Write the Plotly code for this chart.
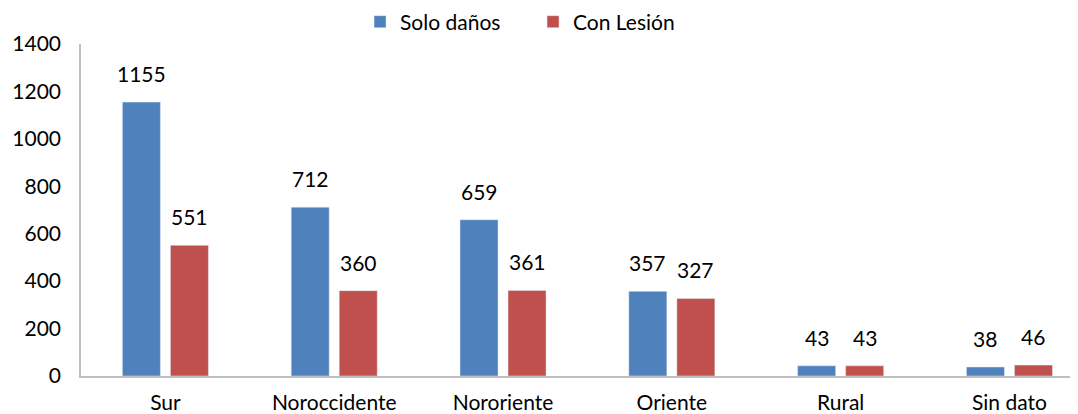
import plotly.graph_objects as go

categories = ["Sur", "Noroccidente", "Nororiente", "Oriente", "Rural", "Sin dato"]
solo_danos = [1155, 712, 659, 357, 43, 38]
con_lesion = [551, 360, 361, 327, 43, 46]
y_ticks = [0, 200, 400, 600, 800, 1000, 1200, 1400]

FONT = "Lato"
FS = 21
fig = go.Figure()
fig.add_trace(go.Bar(name="Solo daños", x=categories, y=solo_danos,
                     marker=dict(color="#4F81BD")))
fig.add_trace(go.Bar(name="Con Lesión", x=categories, y=con_lesion,
                     marker=dict(color="#C0504D")))

annotations = []
for series, shift in ((solo_danos, -24), (con_lesion, 24)):
    for cat, val in zip(categories, series):
        annotations.append(dict(x=cat, y=val, xref="x", yref="y", text=str(val),
                                showarrow=False, xshift=shift, yshift=14,
                                yanchor="bottom", xanchor="center",
                                font=dict(size=FS, family=FONT, color="black")))

fig.update_layout(
    width=1070, height=406,
    margin=dict(l=73, r=0, t=36, b=38, autoexpand=False),
    paper_bgcolor="white", plot_bgcolor="white",
    barmode="group", bargap=0.431, bargroupgap=0.208,
    font=dict(family=FONT, size=FS, color="black"),
    annotations=annotations,
    legend=dict(orientation="h", xref="container", yref="container",
                x=0.329, xanchor="left", y=0.9655, yanchor="middle",
                font=dict(size=FS, family=FONT), itemwidth=30, entrywidth=128,
                traceorder="normal", bgcolor="rgba(0,0,0,0)"),
    xaxis=dict(range=[-0.5, 5.406], showline=True, linecolor="#BFBFBF", linewidth=1.5,
               ticks="", showgrid=False, automargin=False, ticklabelstandoff=7,
               tickfont=dict(size=FS, family=FONT)),
    yaxis=dict(range=[0, 1400], tickvals=y_ticks, showline=True, linecolor="#BFBFBF",
               linewidth=1.5, ticks="", showgrid=False, zeroline=False,
               automargin=False, ticklabelstandoff=14,
               tickfont=dict(size=FS, family=FONT)),
)
fig.write_html("out.html")
